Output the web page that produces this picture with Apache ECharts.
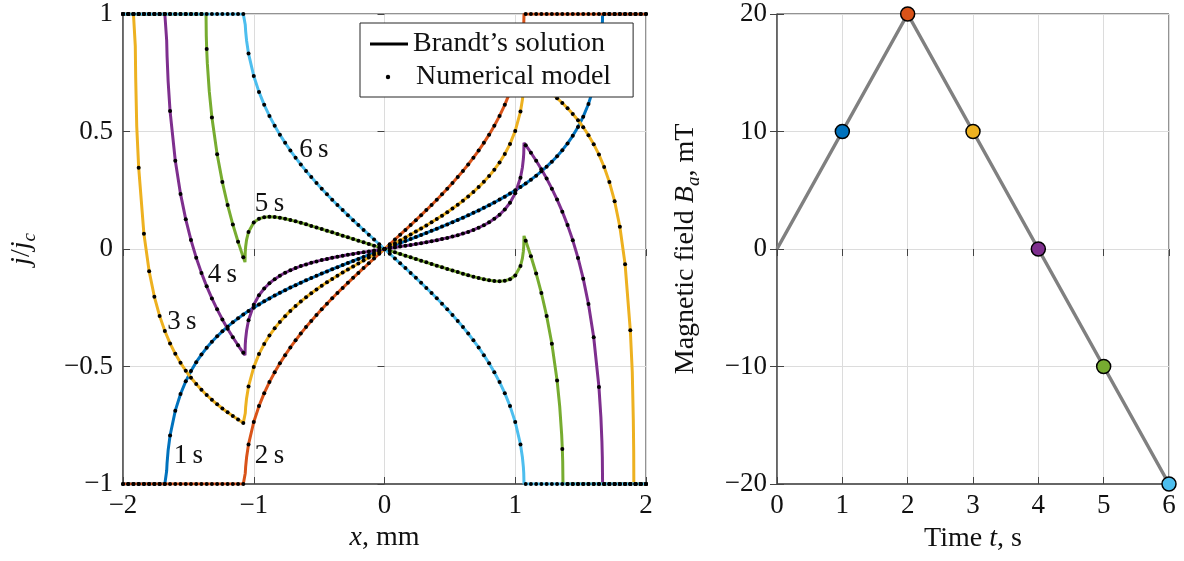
<!DOCTYPE html>
<html><head><meta charset="utf-8">
<script src="https://cdn.jsdelivr.net/npm/echarts@6/dist/echarts.min.js"></script>
<style>html,body{margin:0;padding:0;background:#fff}#c{width:1184px;height:561px}</style>
</head><body><div id="c"></div>
<script>
// ---------- data: left panel (current density j/jc versus x, mm) ----------
const xGrid = [-2,-1.96,-1.92,-1.88,-1.84,-1.8,-1.76,-1.72,-1.68,-1.64,-1.6,-1.56,-1.52,-1.48,-1.44,-1.4,-1.36,-1.32,-1.28,-1.24,-1.2,-1.16,-1.12,-1.08,-1.04,-1,-0.96,-0.92,-0.88,-0.84,-0.8,-0.76,-0.72,-0.68,-0.64,-0.6,-0.56,-0.52,-0.48,-0.44,-0.4,-0.36,-0.32,-0.28,-0.24,-0.2,-0.16,-0.12,-0.08,-0.04,0,0.04,0.08,0.12,0.16,0.2,0.24,0.28,0.32,0.36,0.4,0.44,0.48,0.52,0.56,0.6,0.64,0.68,0.72,0.76,0.8,0.84,0.88,0.92,0.96,1,1.04,1.08,1.12,1.16,1.2,1.24,1.28,1.32,1.36,1.4,1.44,1.48,1.52,1.56,1.6,1.64,1.68,1.72,1.76,1.8,1.84,1.88,1.92,1.96,2];

const j1s = [-1,-1,-1,-1,-1,-1,-1,-1,-1,-0.7935,-0.6878,-0.6172,-0.5631,-0.519,-0.4816,-0.4492,-0.4205,-0.3948,-0.3716,-0.3502,-0.3305,-0.3122,-0.2951,-0.279,-0.2639,-0.2495,-0.2358,-0.2227,-0.2102,-0.1981,-0.1865,-0.1752,-0.1643,-0.1538,-0.1435,-0.1334,-0.1236,-0.114,-0.1046,-0.0953,-0.0862,-0.0773,-0.0684,-0.0596,-0.051,-0.0424,-0.0338,-0.0253,-0.0169,-0.0084,
 0,
 0.0084,0.0169,0.0253,0.0338,0.0424,0.051,0.0596,0.0684,0.0773,0.0862,0.0953,0.1046,0.114,0.1236,0.1334,0.1435,0.1538,0.1643,0.1752,0.1865,0.1981,0.2102,0.2227,0.2358,0.2495,0.2639,0.279,0.2951,0.3122,0.3305,0.3502,0.3716,0.3948,0.4205,0.4492,0.4816,0.519,0.5631,0.6172,0.6878,0.7935,1,1,1,1,1,1,1,1,1];

const j2s = [-1,-1,-1,-1,-1,-1,-1,-1,-1,-1,-1,-1,-1,-1,-1,-1,-1,-1,-1,-1,-1,-1,-1,-1,-0.8314,-0.7361,-0.6685,-0.6135,-0.5663,-0.5244,-0.4865,-0.4516,-0.4191,-0.3886,-0.3597,-0.3323,-0.306,-0.2808,-0.2564,-0.2328,-0.2098,-0.1874,-0.1655,-0.1439,-0.1228,-0.1019,-0.0812,-0.0608,-0.0404,-0.0202,
 0,
 0.0202,0.0404,0.0608,0.0812,0.1019,0.1228,0.1439,0.1655,0.1874,0.2098,0.2328,0.2564,0.2808,0.306,0.3323,0.3597,0.3886,0.4191,0.4516,0.4865,0.5244,0.5663,0.6135,0.6685,0.7361,0.8314,1,1,1,1,1,1,1,1,1,1,1,1,1,1,1,1,1,1,1,1,1,1,1,1];

const j3s = [1,1,1,0.3458,0.0644,-0.0946,-0.2034,-0.2846,-0.349,-0.4016,-0.446,-0.4844,-0.518,-0.5478,-0.5746,-0.599,-0.6212,-0.6418,-0.6608,-0.6786,-0.6952,-0.711,-0.7258,-0.74,-0.5848,-0.5025,-0.4471,-0.4041,-0.3683,-0.3374,-0.3103,-0.2858,-0.2635,-0.2428,-0.2235,-0.2055,-0.1884,-0.1724,-0.1568,-0.142,-0.1276,-0.1138,-0.1003,-0.0869,-0.0742,-0.0615,-0.0488,-0.0366,-0.0242,-0.0122,
 0,
 0.0122,0.0242,0.0366,0.0488,0.0615,0.0742,0.0869,0.1003,0.1138,0.1276,0.142,0.1568,0.1724,0.1884,0.2055,0.2235,0.2428,0.2635,0.2858,0.3103,0.3374,0.3683,0.4041,0.4471,0.5025,0.5848,0.74,0.7258,0.711,0.6952,0.6786,0.6608,0.6418,0.6212,0.599,0.5746,0.5478,0.518,0.4844,0.446,0.4016,0.349,0.2846,0.2034,0.0946,-0.0644,-0.3458,-1,-1,-1];

const j4s = [1,1,1,1,1,1,1,1,1,0.587,0.3756,0.2344,0.1262,0.038,-0.0368,-0.1016,-0.159,-0.2104,-0.2568,-0.2996,-0.339,-0.3756,-0.4098,-0.442,-0.3036,-0.2371,-0.1969,-0.1681,-0.1459,-0.1282,-0.1135,-0.1012,-0.0905,-0.081,-0.0727,-0.0655,-0.0588,-0.0528,-0.0472,-0.0422,-0.0374,-0.0328,-0.0287,-0.0247,-0.0208,-0.0171,-0.0136,-0.0102,-0.0066,-0.0034,
 0,
 0.0034,0.0066,0.0102,0.0136,0.0171,0.0208,0.0247,0.0287,0.0328,0.0374,0.0422,0.0472,0.0528,0.0588,0.0655,0.0727,0.081,0.0905,0.1012,0.1135,0.1282,0.1459,0.1681,0.1969,0.2371,0.3036,0.442,0.4098,0.3756,0.339,0.2996,0.2568,0.2104,0.159,0.1016,0.0368,-0.038,-0.1262,-0.2344,-0.3756,-0.587,-1,-1,-1,-1,-1,-1,-1,-1,-1];

const j5s = [1,1,1,1,1,1,1,1,1,1,1,1,1,1,1,1,0.8512,0.5596,0.4028,0.2846,0.1874,0.104,0.0306,-0.0356,0.0728,0.1125,0.1287,0.1353,0.1369,0.1358,0.1327,0.1284,0.1233,0.1176,0.1115,0.1051,0.0984,0.0916,0.0848,0.0778,0.0708,0.0638,0.0567,0.0497,0.0424,0.0355,0.0284,0.0212,0.0142,0.007,
 0,
 -0.007,-0.0142,-0.0212,-0.0284,-0.0355,-0.0424,-0.0497,-0.0567,-0.0638,-0.0708,-0.0778,-0.0848,-0.0916,-0.0984,-0.1051,-0.1115,-0.1176,-0.1233,-0.1284,-0.1327,-0.1358,-0.1369,-0.1353,-0.1287,-0.1125,-0.0728,0.0356,-0.0306,-0.104,-0.1874,-0.2846,-0.4028,-0.5596,-0.8512,-1,-1,-1,-1,-1,-1,-1,-1,-1,-1,-1,-1,-1,-1,-1,-1];

const j6s = [1,1,1,1,1,1,1,1,1,1,1,1,1,1,1,1,1,1,1,1,1,1,1,1,0.8314,0.7361,0.6685,0.6135,0.5663,0.5244,0.4865,0.4516,0.4191,0.3886,0.3597,0.3323,0.306,0.2808,0.2564,0.2328,0.2098,0.1874,0.1655,0.1439,0.1228,0.1019,0.0812,0.0608,0.0404,0.0202,
 0,
 -0.0202,-0.0404,-0.0608,-0.0812,-0.1019,-0.1228,-0.1439,-0.1655,-0.1874,-0.2098,-0.2328,-0.2564,-0.2808,-0.306,-0.3323,-0.3597,-0.3886,-0.4191,-0.4516,-0.4865,-0.5244,-0.5663,-0.6135,-0.6685,-0.7361,-0.8314,-1,-1,-1,-1,-1,-1,-1,-1,-1,-1,-1,-1,-1,-1,-1,-1,-1,-1,-1,-1,-1,-1,-1,-1];

// extra points of the analytic curves close to the flux fronts (steep parts)
const edge1s = [[-1.668,-1],[-1.666,-0.9436],[-1.663,-0.911],[-1.655,-0.8575],[1.655,0.8575],[1.663,0.911],[1.666,0.9436],[1.668,1]];
const edge2s = [[-1.067,-1],[-1.065,-0.9539],[-1.062,-0.9272],[-1.055,-0.8874],[1.055,0.8874],[1.062,0.9272],[1.065,0.9539],[1.067,1]];
const edge3s = [[-1.907,1],[-1.906,0.8636],[-1.903,0.73],[-1.895,0.5222],[-1.067,-0.7444],[-1.065,-0.6991],[-1.062,-0.6734],[-1.055,-0.6358],[1.055,0.6358],[1.062,0.6734],[1.065,0.6991],[1.067,0.7444],[1.895,-0.5222],[1.903,-0.73],[1.906,-0.8636],[1.907,-1]];
const edge4s = [[-1.668,1],[-1.666,0.8872],[-1.663,0.822],[-1.655,0.715],[-1.067,-0.4518],[-1.065,-0.4073],[-1.062,-0.3828],[-1.055,-0.3482],[1.055,0.3482],[1.062,0.3828],[1.065,0.4073],[1.067,0.4518],[1.655,-0.715],[1.663,-0.822],[1.666,-0.8872],[1.668,-1]];
const edge5s = [[-1.365,1],[-1.363,0.9058],[-1.355,0.7898],[-1.34,0.6696],[-1.067,-0.0558],[-1.065,-0.0127],[-1.062,0.0094],[-1.055,0.0388],[1.055,-0.0388],[1.062,-0.0094],[1.065,0.0127],[1.067,0.0558],[1.34,-0.6696],[1.355,-0.7898],[1.363,-0.9058],[1.365,-1]];
const edge6s = [[-1.067,1],[-1.065,0.9539],[-1.062,0.9272],[-1.055,0.8874],[1.055,-0.8874],[1.062,-0.9272],[1.065,-0.9539],[1.067,-1]];

const curveNames = ['1\u2009s','2\u2009s','3\u2009s','4\u2009s','5\u2009s','6\u2009s'];
const labelX = [-1.5,-0.88,-1.55,-1.24,-0.88,-0.54];
const labelY = [-0.88,-0.88,-0.31,-0.11,0.19,0.42];

// ---------- data: right panel (applied field versus time) ----------
const timeS = [0,1,2,3,4,5,6];
const fieldMT = [0,10,20,10,0,-10,-20];

// tick values
const xTicksLeft = [-2,-1,0,1,2];
const yTicksLeft = [-1,-0.5,0,0.5,1];
const xTicksRight = [0,1,2,3,4,5,6];
const yTicksRight = [-20,-10,0,10,20];

// ---------- styles ----------
const curveColors = ['#0072BD','#D95319','#EDB120','#7E2F8E','#77AC30','#4DBEEE'];
const FONT = "'Liberation Serif','Times New Roman',serif";
const TXT = '#111';
const FS = 27;   // tick labels
const FN = 28;   // axis names, legend

const curves = [j1s,j2s,j3s,j4s,j5s,j6s];
const edges = [edge1s,edge2s,edge3s,edge4s,edge5s,edge6s];
const fmt = v => (v < 0 ? '\u2212' : '') + Math.abs(v);

function lineData(js, edge){
  const pts = xGrid.map((x,i)=>[x, js[i]]).concat(edge);
  pts.sort((a,b)=>a[0]-b[0]);
  return pts;
}

const rich = {
  i:{fontStyle:'italic',fontSize:FN,fontFamily:FONT,color:TXT},
  r:{fontSize:FN,fontFamily:FONT,color:TXT},
  s:{fontStyle:'italic',fontSize:19,fontFamily:FONT,color:TXT,verticalAlign:'top',padding:[15,0,0,0]}
};

function mainX(grid, min, max, ticks, name, gap){
  return {gridIndex:grid,type:'value',min:min,max:max,interval:ticks[1]-ticks[0],
    position:'bottom',
    name:name,nameLocation:'middle',nameGap:gap,
    nameTextStyle:{fontSize:FN,fontFamily:FONT,color:TXT,rich:rich},
    axisLine:{show:true,onZero:false,lineStyle:{color:'#666',width:2}},
    axisTick:{show:true,inside:true,length:7,lineStyle:{color:'#444',width:1}},
    axisLabel:{fontSize:FS,fontFamily:FONT,color:TXT,margin:8,formatter:fmt,showMinLabel:true,showMaxLabel:true},
    splitLine:{show:true,lineStyle:{color:'#dcdcdc',width:1}}};
}
function mainY(grid, min, max, ticks, name, gap){
  return {gridIndex:grid,type:'value',min:min,max:max,interval:ticks[1]-ticks[0],
    position:'left',
    name:name,nameLocation:'middle',nameGap:gap,
    nameTextStyle:{fontSize:FN,fontFamily:FONT,color:TXT,rich:rich},
    axisLine:{show:true,onZero:false,lineStyle:{color:'#555',width:1.5}},
    axisTick:{show:true,inside:true,length:7,lineStyle:{color:'#444',width:1}},
    axisLabel:{fontSize:FS,fontFamily:FONT,color:TXT,margin:10,formatter:fmt,showMinLabel:true,showMaxLabel:true},
    splitLine:{show:true,lineStyle:{color:'#dcdcdc',width:1}}};
}
function boxX(grid,min,max,ticks){
  return {gridIndex:grid,type:'value',min:min,max:max,interval:ticks[1]-ticks[0],position:'top',
    axisLine:{show:false},axisLabel:{show:false},splitLine:{show:false},
    axisTick:{show:true,inside:true,length:7,lineStyle:{color:'#444',width:1}}};
}
function boxY(grid,min,max,ticks){
  return {gridIndex:grid,type:'value',min:min,max:max,interval:ticks[1]-ticks[0],position:'right',
    axisLine:{show:false},axisLabel:{show:false},splitLine:{show:false},
    axisTick:{show:true,inside:true,length:7,lineStyle:{color:'#444',width:1}}};
}

const series = [];
curves.forEach((js,k)=>{
  series.push({type:'line',name:'Brandt\u2019s solution',xAxisIndex:0,yAxisIndex:0,
    data:lineData(js,edges[k]),symbol:'none',showSymbol:false,silent:true,
    lineStyle:{color:curveColors[k],width:3},itemStyle:{color:curveColors[k]},z:2});
});
curves.forEach((js,k)=>{
  series.push({type:'scatter',name:'Numerical model',xAxisIndex:0,yAxisIndex:0,
    data:xGrid.map((x,i)=>[x,js[i]]),symbolSize:4,silent:true,clip:false,
    itemStyle:{color:'#000',opacity:1},z:3});
});
series.push({type:'scatter',xAxisIndex:0,yAxisIndex:0,silent:true,symbolSize:1,z:4,
  itemStyle:{color:'rgba(0,0,0,0)',opacity:1},
  data:curveNames.map((n,i)=>({name:n,value:[labelX[i],labelY[i]]})),
  label:{show:true,position:'inside',formatter:'{b}',fontSize:FS,fontFamily:FONT,color:TXT,opacity:1}});
series.push({type:'line',xAxisIndex:2,yAxisIndex:2,silent:true,
  data:timeS.map((t,i)=>[t,fieldMT[i]]),symbol:'none',
  lineStyle:{color:'#808080',width:3.5},z:2});
series.push({type:'scatter',xAxisIndex:2,yAxisIndex:2,silent:true,clip:false,symbolSize:14,z:3,
  data:timeS.slice(1).map((t,i)=>({value:[t,fieldMT[i+1]],itemStyle:{color:curveColors[i]}})),
  itemStyle:{borderColor:'#000',borderWidth:1.5,opacity:1}});

// legend marker for the numerical model: small dot centred in a 46x6 icon box
const dotIcon = 'path://M0,0M46,6M20.8,3a2.2,2.2 0 1,0 4.4,0a2.2,2.2 0 1,0 -4.4,0z';

const option = {
  animation:false,
  backgroundColor:'#fff',
  textStyle:{fontFamily:FONT},
  grid:[
    {left:123,top:14,width:523,height:470,show:true,borderColor:'#262626',borderWidth:1,backgroundColor:'rgba(0,0,0,0)'},
    {left:777,top:14,width:392,height:470,show:true,borderColor:'#262626',borderWidth:1,backgroundColor:'rgba(0,0,0,0)'}
  ],
  xAxis:[
    mainX(0,-2,2,xTicksLeft,'{i|x}{r|, mm}',40),
    boxX(0,-2,2,xTicksLeft),
    mainX(1,0,6,xTicksRight,'{r|Time }{i|t}{r|, s}',41),
    boxX(1,0,6,xTicksRight)
  ],
  yAxis:[
    mainY(0,-1,1,yTicksLeft,'{i|j}{r|/}{i|j}{s|c}',84),
    boxY(0,-1,1,yTicksLeft),
    mainY(1,-20,20,yTicksRight,'{r|Magnetic field }{i|B}{s|a}{r|, mT}',74),
    boxY(1,-20,20,yTicksRight)
  ],
  legend:[
    {data:['Brandt\u2019s solution'],left:360,top:23,orient:'vertical',icon:'rect',
     itemWidth:38,itemHeight:3,selectedMode:false,
     itemStyle:{color:'#000',borderWidth:0},
     backgroundColor:'#fff',borderColor:'#262626',borderWidth:1,borderRadius:0,
     padding:[5,28,37,10],z:10,
     textStyle:{fontSize:FN,fontFamily:FONT,color:TXT,lineHeight:32}},
    {data:['Numerical model'],left:365,top:61,orient:'vertical',icon:dotIcon,
     itemWidth:46,itemHeight:6,selectedMode:false,
     itemStyle:{color:'#000',borderWidth:0},padding:0,z:11,
     textStyle:{fontSize:FN,fontFamily:FONT,color:TXT,lineHeight:32}}
  ],
  series:series
};

const chart = echarts.init(document.getElementById('c'),null,{renderer:'canvas'});
chart.setOption(option);
</script>
</body></html>
